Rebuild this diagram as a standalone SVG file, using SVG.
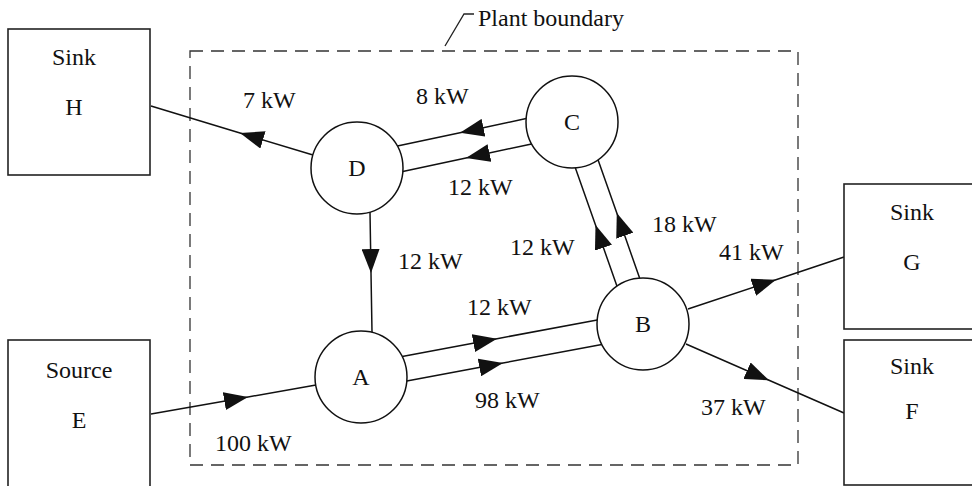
<svg xmlns="http://www.w3.org/2000/svg" width="972" height="486" viewBox="0 0 972 486">
<style>
  text { font-family: "Liberation Serif", "Times New Roman", serif; font-size: 24px; fill: #111; }
  .box { fill: #fff; stroke: #222; stroke-width: 1.6; }
  .node { fill: #fff; stroke: #111; stroke-width: 1.5; }
  .mid { text-anchor: middle; }
  .flow { fill: none; stroke: #111; stroke-width: 1.5; marker-mid: url(#arrow); }
  .boundary { fill: none; stroke: #333; stroke-width: 1.3; stroke-dasharray: 13 8; }
</style>
<defs>
  <marker id="arrow" viewBox="0 0 24 18" refX="24" refY="9" markerWidth="24" markerHeight="18" markerUnits="userSpaceOnUse" orient="auto">
    <path d="M0,0 L24,9 L0,18 Z" fill="#111"/>
  </marker>
</defs>
<rect width="972" height="486" fill="#fff"/>

<g id="plant-boundary">
  <rect class="boundary" x="190" y="51" width="608" height="414"/>
  <path d="M445,46 L464,14 L474,14" fill="none" stroke="#222" stroke-width="1.3"/>
  <text x="478" y="26" font-family="Liberation Serif, Times New Roman, serif">Plant boundary</text>
</g>

<g id="connectors" font-family="Liberation Serif, Times New Roman, serif">
  <path class="flow" d="M151,414 L248,397 L316,385"/>
  <path class="flow" d="M402.2,356.5 L497,338.7 L597.2,319.9"/>
  <path class="flow" d="M406.8,381.1 L503,363 L601.8,344.5"/>
  <path class="flow" d="M526.2,118.5 L460,132.7 L397.4,146.1"/>
  <path class="flow" d="M531.6,143.9 L466,158 L402.8,171.5"/>
  <path class="flow" d="M616.9,286.1 L595.5,225 L575.4,167.9"/>
  <path class="flow" d="M639.6,278.1 L616.8,213 L598.1,159.9"/>
  <path class="flow" d="M370,212 L371,273 L372,332"/>
  <path class="flow" d="M688,309 L776,279.7 L844,257"/>
  <path class="flow" d="M686,344 L769,380.3 L844,413"/>
  <path class="flow" d="M313,155 L240,133 L151,106"/>
  <text x="243" y="108">7 kW</text>
  <text x="416" y="104">8 kW</text>
  <text x="448" y="195">12 kW</text>
  <text x="398" y="269">12 kW</text>
  <text x="510" y="255">12 kW</text>
  <text x="652" y="232">18 kW</text>
  <text x="719" y="260">41 kW</text>
  <text x="467" y="315">12 kW</text>
  <text x="475" y="408">98 kW</text>
  <text x="701" y="415">37 kW</text>
  <text x="215" y="451">100 kW</text>
</g>

<g id="sink-H">
  <rect class="box" x="8" y="29" width="142" height="146"/>
  <text class="mid" x="74" y="65">Sink</text>
  <text class="mid" x="74" y="115">H</text>
</g>
<g id="source-E">
  <rect class="box" x="8" y="340" width="142" height="160"/>
  <text class="mid" x="79" y="378">Source</text>
  <text class="mid" x="79" y="428">E</text>
</g>
<g id="sink-G">
  <rect class="box" x="844" y="184" width="140" height="145"/>
  <text class="mid" x="912" y="220">Sink</text>
  <text class="mid" x="912" y="270">G</text>
</g>
<g id="sink-F">
  <rect class="box" x="844" y="340" width="140" height="145"/>
  <text class="mid" x="912" y="374">Sink</text>
  <text class="mid" x="912" y="419">F</text>
</g>

<g id="node-A">
  <circle class="node" cx="361" cy="377" r="46"/>
  <text class="mid" x="361" y="385">A</text>
</g>
<g id="node-B">
  <circle class="node" cx="643" cy="324" r="46"/>
  <text class="mid" x="643" y="332">B</text>
</g>
<g id="node-C">
  <circle class="node" cx="572" cy="122" r="46"/>
  <text class="mid" x="572" y="130">C</text>
</g>
<g id="node-D">
  <circle class="node" cx="357" cy="168" r="46"/>
  <text class="mid" x="357" y="176">D</text>
</g>
</svg>
